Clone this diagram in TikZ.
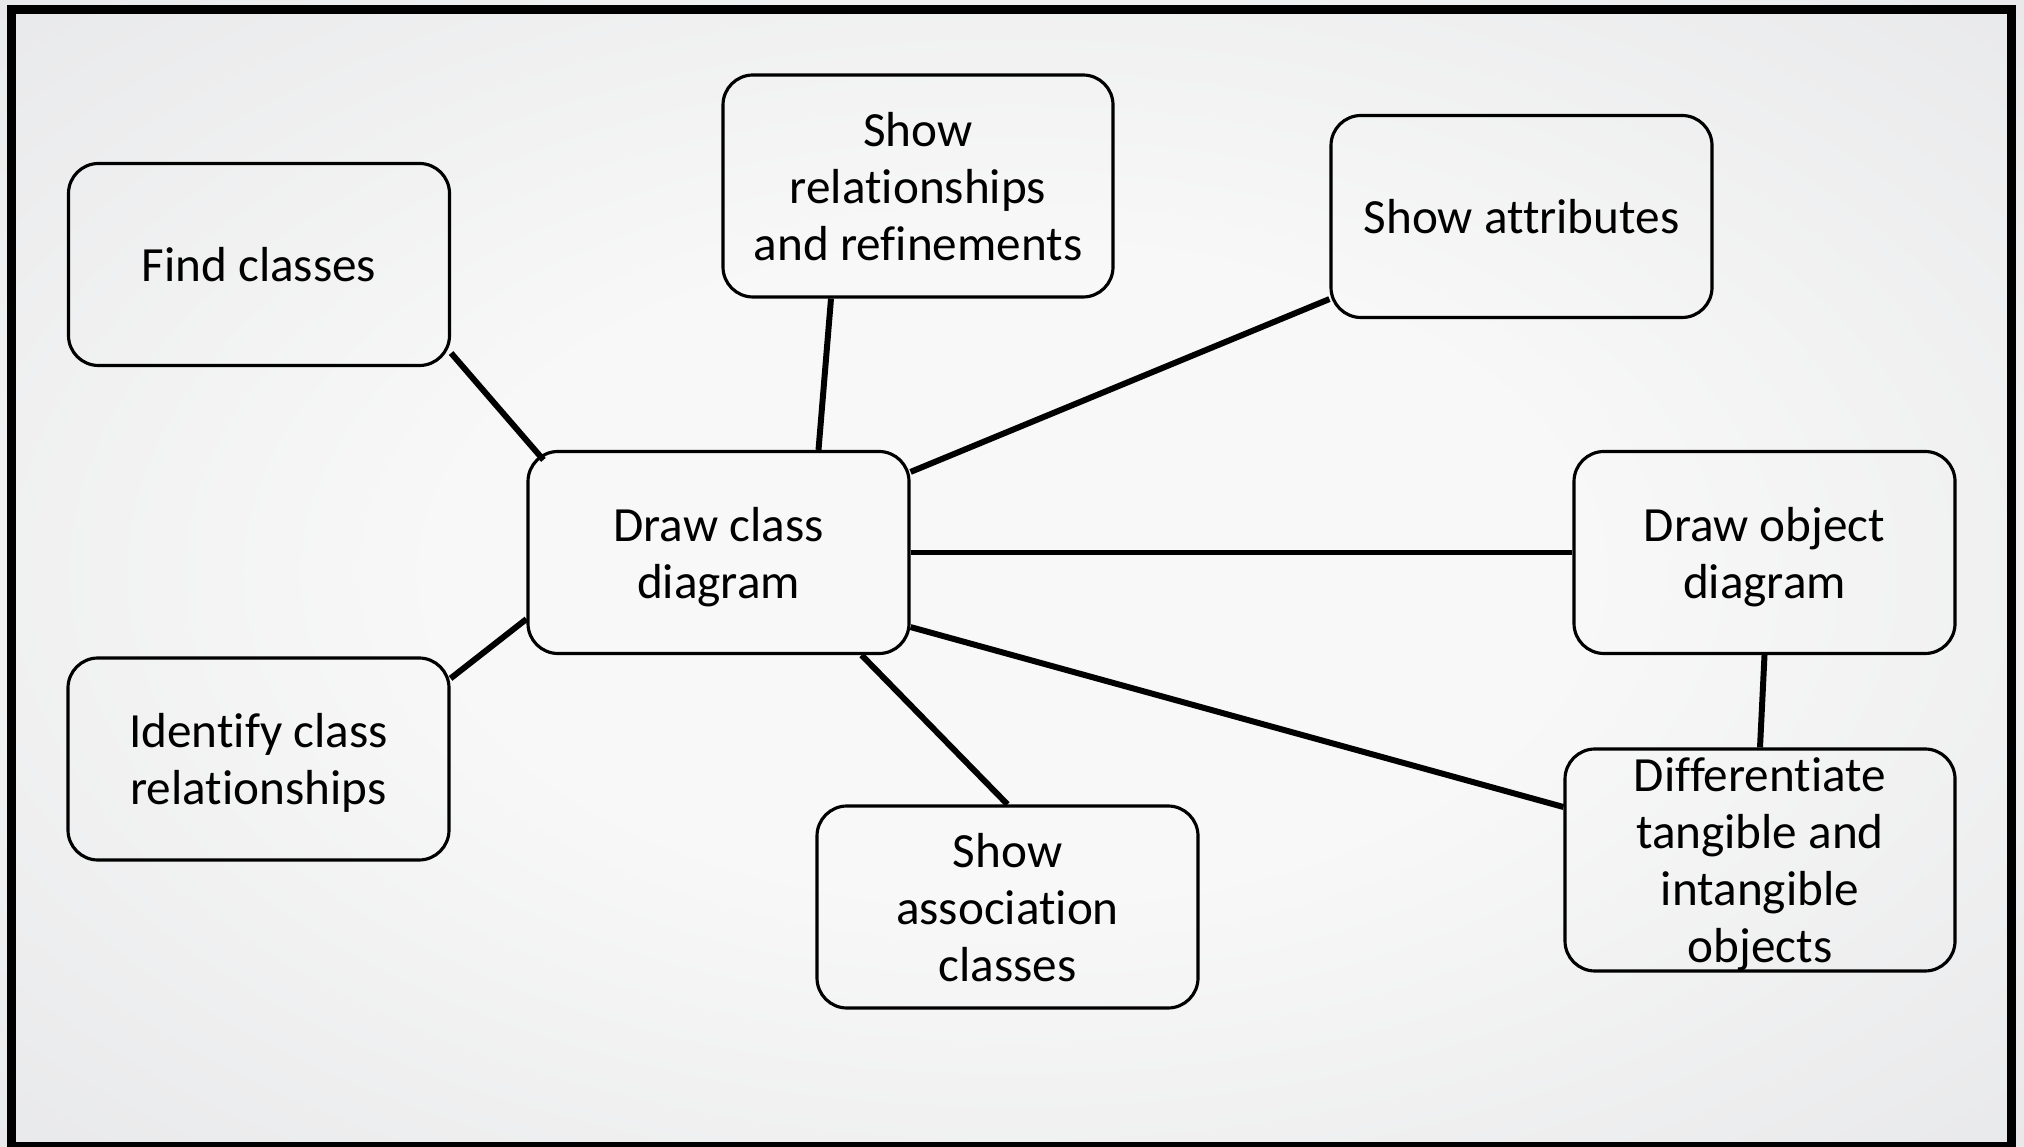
\documentclass[tikz,border=0pt]{standalone}
\usepackage{fontspec}
\setmainfont{Carlito}[Ligatures=NoCommon]
\usetikzlibrary{positioning}

\definecolor{bgcenter}{RGB}{248,248,248}
\definecolor{bgmid}{RGB}{226,227,229}
\definecolor{bgedge}{RGB}{194,196,199}
\pgfdeclareradialshading{bgshade}{\pgfpoint{0bp}{0bp}}{color(0bp)=(bgcenter); color(14bp)=(bgcenter); color(44bp)=(bgmid); color(72bp)=(bgedge)}

\begin{document}
\begin{tikzpicture}[task/.style={draw, line width=0.9pt, rounded corners=0.3cm, minimum width=3.81cm, minimum height=2.02cm, inner sep=0pt, text depth=0pt, align=center, font=\fontsize{14}{16.2}\selectfont}, tall/.style={minimum width=3.9cm, minimum height=2.22cm}, link/.style={line width=1.7pt}]
    \useasboundingbox (0,0) rectangle (20.24,11.46);
    \shade[shading=bgshade] (0,0) rectangle (20.24,11.46);
    \draw[line width=0.09cm] (0.12,0) rectangle (20.11,11.36);
    \node[task] (draw) at (7.185,5.935) {Draw class\\diagram};
    \node[task] (find) at (2.59,8.815) {Find classes};
    \node[task, tall] (rel) at (9.18,9.60) {Show\\relationships\\and refinements};
    \node[task] (attr) at (15.215,9.295) {Show attributes};
    \node[task] (obj) at (17.645,5.935) {Draw object\\diagram};
    \node[task] (ident) at (2.585,3.87) {Identify class\\relationships};
    \node[task] (assoc) at (10.075,2.39) {Show\\association\\classes};
    \node[task, tall] (diff) at (17.60,2.86) {Differentiate\\tangible and\\intangible\\objects};
    \draw[link] ([yshift=0.14cm]find.south east) -- ([xshift=0.17cm, yshift=-0.10cm]draw.north west);
    \draw[link] ([xshift=-0.87cm]rel.south) -- ([xshift=1.0cm]draw.north);
    \draw[link] ([yshift=-0.22cm]draw.north east) -- ([yshift=0.20cm]attr.south west);
    \draw[link] (draw.east) -- (obj.west);
    \draw[link] ([yshift=0.28cm]draw.south east) -- ([yshift=0.53cm]diff.west);
    \draw[link] ([xshift=1.43cm]draw.south) -- (assoc.north);
    \draw[link] ([yshift=0.36cm]draw.south west) -- ([yshift=-0.22cm]ident.north east);
    \draw[link] (obj.south) -- (diff.north);
\end{tikzpicture}
\end{document}
